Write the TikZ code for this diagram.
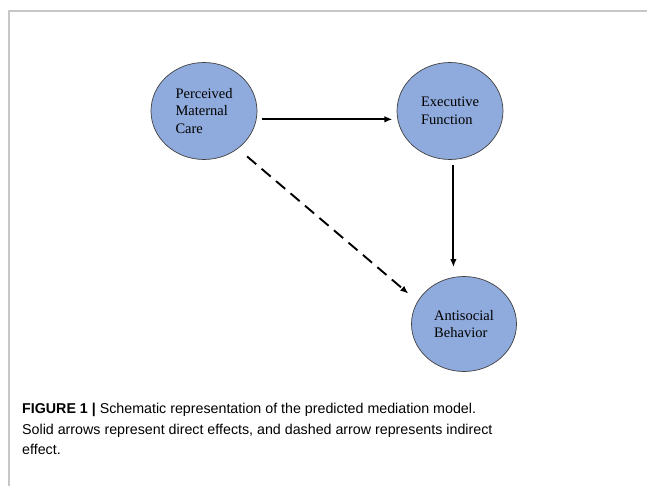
\documentclass[tikz,border=0pt]{standalone}
\usepackage{fontspec}
\setmainfont{Liberation Serif}
\setsansfont{Liberation Sans}
\usetikzlibrary{shapes.geometric,arrows.meta}

\begin{document}
\begin{tikzpicture}[x=1pt, y=-1pt,
    construct/.style={ellipse, draw=black!75, line width=0.7pt, fill=conblue,
      minimum width=106pt, minimum height=97pt, inner sep=0pt,
      align=left, font=\fontsize{14.5}{17.5}\selectfont},
    effect/.style={line width=1.9pt, -{Latex[length=8pt,width=6.5pt]}},
    indirect/.style={effect, dash pattern=on 12pt off 7pt}]
    \definecolor{conblue}{HTML}{8FAADC}
    \useasboundingbox (0,0) rectangle (647,486);
    % frame
    \draw[line width=1.5pt, black!22] (9,486) -- (9,11) -- (647,11);
    % constructs
    \node[construct] (pmc) at (204,111) {\raisebox{-3pt}{\parbox{57pt}{Perceived\\Maternal\\Care}}};
    \node[construct] (ef) at (450,111) {Executive\\Function};
    \node[construct, minimum width=105pt, minimum height=95pt] (ab) at (464,324) {Antisocial\\Behavior};
    % paths
    \draw[effect, shorten <=5pt, shorten >=5pt] (pmc.-9) -- (ef.189);
    \draw[effect, shorten <=5pt, shorten >=9pt] (ef.-86) -- (ef.-86 |- ab.north);
    \draw[indirect, shorten <=12pt, shorten >=12pt] (pmc.-48) -- (ab.154);
    % caption
    \node[anchor=north west, inner sep=0pt, align=left, font=\sffamily\fontsize{14.25}{20.5}\selectfont]
      (cap) at (22,403) {\textbf{FIGURE 1 |} Schematic representation of the predicted mediation model.\\
      Solid arrows represent direct effects, and dashed arrow represents indirect\\
      effect.};
\end{tikzpicture}
\end{document}
